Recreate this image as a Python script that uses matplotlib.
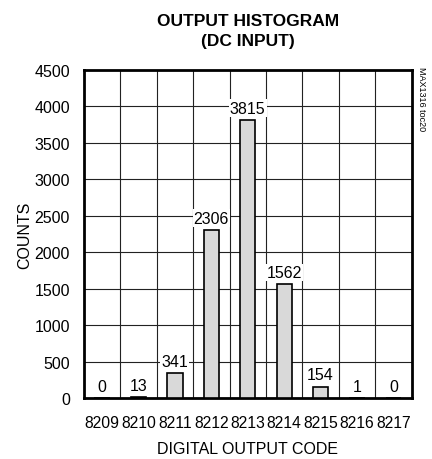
import matplotlib
matplotlib.use("Agg")
import matplotlib.pyplot as plt
from matplotlib import font_manager as fm

codes = ["8209", "8210", "8211", "8212", "8213", "8214", "8215", "8216", "8217"]
counts = [0, 13, 341, 2306, 3815, 1562, 154, 1, 0]
yticks = [0, 500, 1000, 1500, 2000, 2500, 3000, 3500, 4000, 4500]

names = {f.name for f in fm.fontManager.ttflist}
fam = ["Liberation Sans Narrow", "Liberation Sans", "DejaVu Sans"]
fam = [f for f in fam if f in names] or ["DejaVu Sans"]
plt.rcParams['font.family'] = fam

fig = plt.figure(figsize=(4.32, 4.60), dpi=100)
ax = fig.add_axes([0.194, 0.1326, 0.759, 0.713])

x = list(range(len(codes)))
ax.bar(x, counts, width=0.42, color="#d9d9d9", edgecolor="black", linewidth=1.2, zorder=3)

ax.set_xlim(-0.5, len(codes) - 0.5)
ax.set_ylim(0, 4500)
ax.set_yticks(yticks)
ax.set_xticks(x)
ax.set_xticklabels(codes)
for b in [i + 0.5 for i in range(len(codes) - 1)]:
    ax.axvline(b, color="#222222", linewidth=0.8, zorder=1)
for t in yticks[1:-1]:
    ax.axhline(t, color="#222222", linewidth=0.8, zorder=1)
ax.tick_params(axis="x", length=0, labelsize=11.3, pad=12)
ax.tick_params(axis="y", length=0, labelsize=11.5, pad=10)

for s in ax.spines.values():
    s.set_linewidth(2)

for xi, c in zip(x, counts):
    ax.text(xi, c + 60, str(c), ha="center", va="bottom", fontsize=11.5, zorder=5,
            bbox=dict(facecolor="white", edgecolor="none", pad=0.8))

ax.set_ylabel("COUNTS", fontsize=11.5)
ax.yaxis.set_label_coords(-0.158, 0.5)
ax.set_xlabel("DIGITAL OUTPUT CODE", fontsize=11.5, labelpad=8)

fig.text(0.574, 0.97, "OUTPUT HISTOGRAM\n(DC INPUT)", ha="center", va="top",
         fontsize=12.5, fontweight="bold", linespacing=1.45)
fig.text(0.975, 0.855, "MAX1316 toc20", rotation=270, ha="center", va="top", fontsize=6.5)

fig.savefig("out.png", dpi=100)
